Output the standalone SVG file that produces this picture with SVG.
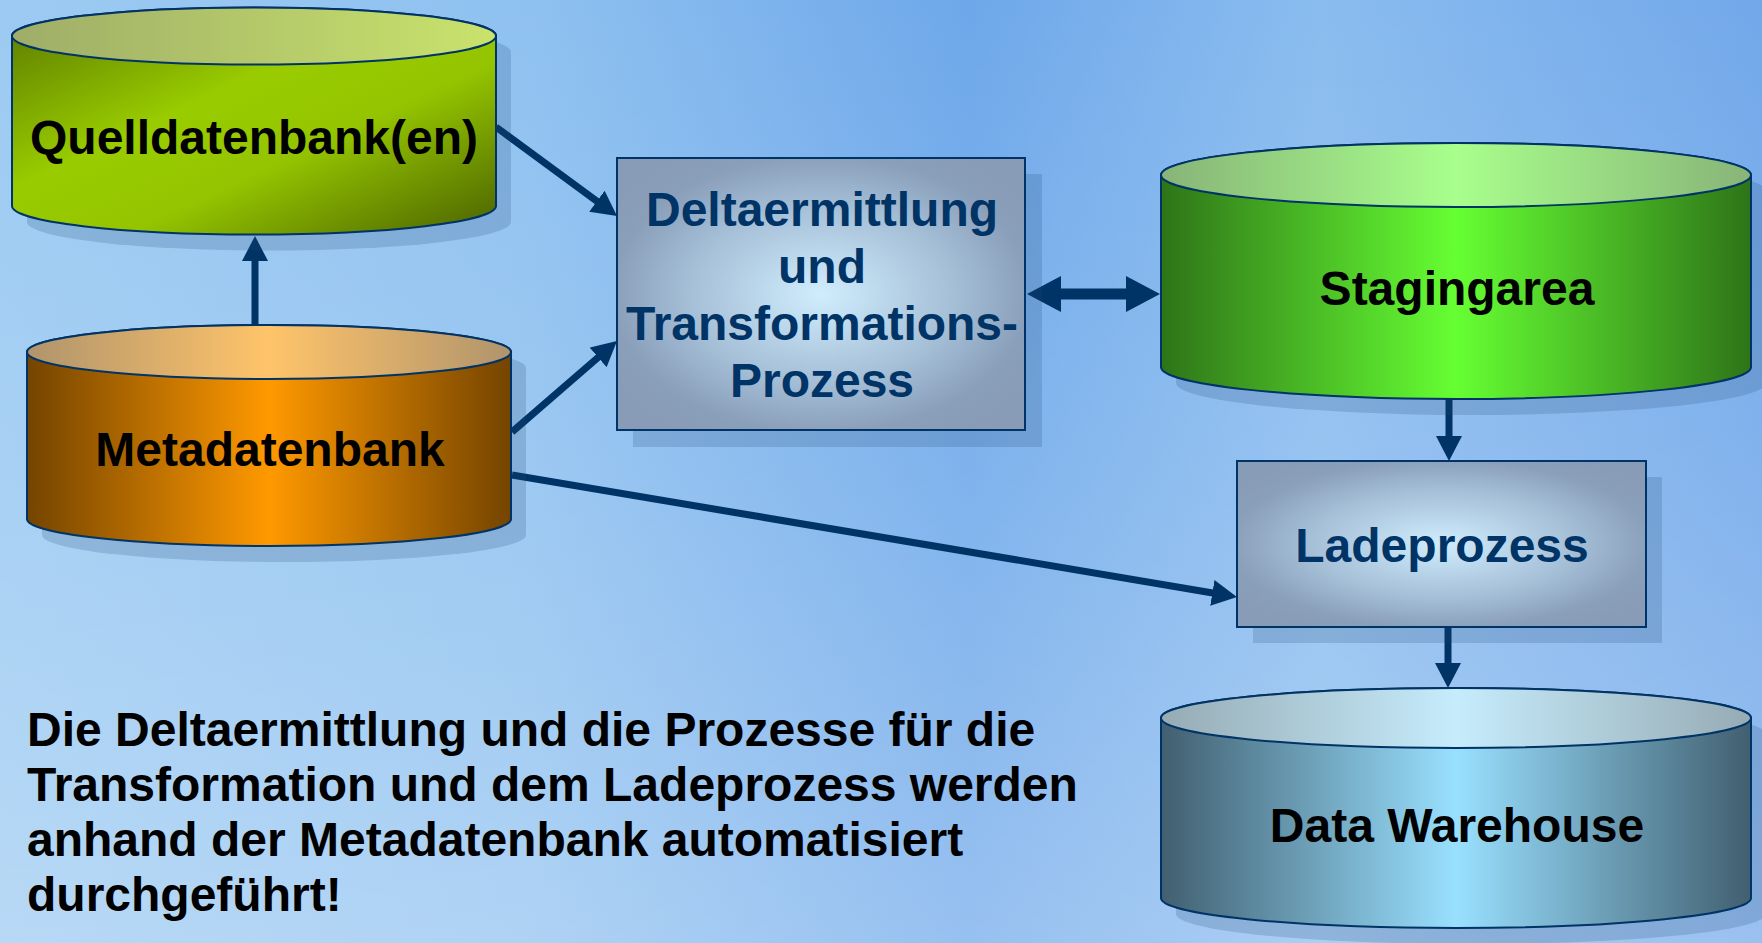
<svg xmlns="http://www.w3.org/2000/svg" width="1762" height="943" viewBox="0 0 1762 943">
<style>
.lbl{font-family:"Liberation Sans",Arial,sans-serif;font-weight:bold;font-size:48px;text-anchor:middle;fill:#000}
.plbl{font-family:"Liberation Sans",Arial,sans-serif;font-weight:bold;font-size:48px;text-anchor:middle;fill:#003366}
.note{font-family:"Liberation Sans",Arial,sans-serif;font-weight:bold;font-size:48px;fill:#000}
.edge{stroke:#003366;stroke-width:7;fill:none}
.edge2{stroke:#003366;stroke-width:11;fill:none}
.shadow{fill:#24497a;opacity:0.2}
.outline{stroke:#003366;stroke-width:2}
</style>
<defs>
<linearGradient id="bg" x1="0" y1="0" x2="1" y2="0">
<stop offset="0" stop-color="#9ccaf2"/>
<stop offset="0.3" stop-color="#8fc1f0"/>
<stop offset="0.55" stop-color="#6ea8ea"/>
<stop offset="0.75" stop-color="#8abcef"/>
<stop offset="1" stop-color="#72a8ea"/>
</linearGradient>
<linearGradient id="bgV" x1="0" y1="0" x2="0" y2="1">
<stop offset="0" stop-color="#ffffff" stop-opacity="0"/>
<stop offset="0.5" stop-color="#ffffff" stop-opacity="0.12"/>
<stop offset="1" stop-color="#ffffff" stop-opacity="0.28"/>
</linearGradient>
<linearGradient id="quellBody" x1="0" y1="0" x2="1" y2="1">
<stop offset="0" stop-color="#587600"/>
<stop offset="0.4" stop-color="#99cc00"/>
<stop offset="0.62" stop-color="#94c400"/>
<stop offset="1" stop-color="#4a6200"/>
</linearGradient>
<linearGradient id="quellTop" x1="0" y1="0" x2="1" y2="0">
<stop offset="0" stop-color="#9fad68"/>
<stop offset="1" stop-color="#c9e36c"/>
</linearGradient>
<linearGradient id="metaBody" x1="0" y1="0" x2="1" y2="0">
<stop offset="0" stop-color="#744400"/>
<stop offset="0.5" stop-color="#ff9900"/>
<stop offset="1" stop-color="#744400"/>
</linearGradient>
<linearGradient id="metaTop" x1="0" y1="0" x2="1" y2="0">
<stop offset="0" stop-color="#b0946c"/>
<stop offset="0.5" stop-color="#ffc46a"/>
<stop offset="1" stop-color="#b0946c"/>
</linearGradient>
<linearGradient id="stagBody" x1="0" y1="0" x2="1" y2="0">
<stop offset="0" stop-color="#2e7418"/>
<stop offset="0.5" stop-color="#66ff33"/>
<stop offset="1" stop-color="#2e7418"/>
</linearGradient>
<linearGradient id="stagTop" x1="0" y1="0" x2="1" y2="0">
<stop offset="0" stop-color="#88b478"/>
<stop offset="0.5" stop-color="#a8ff8c"/>
<stop offset="1" stop-color="#88b478"/>
</linearGradient>
<linearGradient id="dwBody" x1="0" y1="0" x2="1" y2="0">
<stop offset="0" stop-color="#415f70"/>
<stop offset="0.5" stop-color="#99e0ff"/>
<stop offset="1" stop-color="#415f70"/>
</linearGradient>
<linearGradient id="dwTop" x1="0" y1="0" x2="1" y2="0">
<stop offset="0" stop-color="#96abb4"/>
<stop offset="0.5" stop-color="#c6ecfc"/>
<stop offset="1" stop-color="#96abb4"/>
</linearGradient>
<radialGradient id="boxFill" cx="0.5" cy="0.5" r="0.6">
<stop offset="0" stop-color="#d0edfd"/>
<stop offset="0.55" stop-color="#a4bed6"/>
<stop offset="0.85" stop-color="#8a9fba"/>
<stop offset="1" stop-color="#889cb8"/>
</radialGradient>
<marker id="ah" markerUnits="userSpaceOnUse" markerWidth="25" markerHeight="26" refX="2" refY="13" orient="auto">
<path d="M0,0 L25,13 L0,26 Z" fill="#003366"/>
</marker>
<marker id="ahBig" markerUnits="userSpaceOnUse" markerWidth="34" markerHeight="36" refX="2" refY="18" orient="auto-start-reverse">
<path d="M0,0 L34,18 L0,36 Z" fill="#003366"/>
</marker>
</defs>

<rect x="0" y="0" width="1762" height="943" fill="url(#bg)"/>
<rect x="0" y="0" width="1762" height="943" fill="url(#bgV)"/>

<g id="connectors">
<line class="edge" x1="255" y1="326" x2="255" y2="259" marker-end="url(#ah)"/>
<line class="edge" x1="496" y1="127" x2="598.5" y2="202.4" marker-end="url(#ah)"/>
<line class="edge" x1="512" y1="432" x2="599.6" y2="356.1" marker-end="url(#ah)"/>
<line class="edge" x1="512" y1="475" x2="1214.3" y2="593.2" marker-end="url(#ah)"/>
<line class="edge" x1="1449" y1="399" x2="1449" y2="438" marker-end="url(#ah)"/>
<line class="edge" x1="1448" y1="627" x2="1448" y2="665" marker-end="url(#ah)"/>
<line class="edge2" x1="1059" y1="294" x2="1128" y2="294" marker-start="url(#ahBig)" marker-end="url(#ahBig)"/>
</g>

<g id="quelldatenbank">
<path class="shadow" d="M27,52 V222 A242,28.5 0 0 0 511,222 V52 A242,28.5 0 0 0 27,52 Z"/>
<path class="outline" fill="url(#quellBody)" d="M12,36 V206 A242,28.5 0 0 0 496,206 V36 A242,28.5 0 0 0 12,36 Z"/>
<ellipse class="outline" cx="254" cy="36" rx="242" ry="28.5" fill="url(#quellTop)"/>
<text class="lbl" x="254" y="154">Quelldatenbank(en)</text>
</g>

<g id="metadatenbank">
<path class="shadow" d="M42,368 V535 A242,27 0 0 0 526,535 V368 A242,27 0 0 0 42,368 Z"/>
<path class="outline" fill="url(#metaBody)" d="M27,352 V519 A242,27 0 0 0 511,519 V352 A242,27 0 0 0 27,352 Z"/>
<ellipse class="outline" cx="269" cy="352" rx="242" ry="27" fill="url(#metaTop)"/>
<text class="lbl" x="270" y="466">Metadatenbank</text>
</g>

<g id="deltaermittlung">
<rect class="shadow" x="633" y="174" width="409" height="273"/>
<rect class="outline" x="617" y="158" width="408" height="272" fill="url(#boxFill)"/>
<text class="plbl" x="822" y="226">Deltaermittlung</text>
<text class="plbl" x="822" y="283">und</text>
<text class="plbl" x="822" y="340">Transformations-</text>
<text class="plbl" x="822" y="397">Prozess</text>
</g>

<g id="stagingarea">
<path class="shadow" d="M1176,191 V383 A295,32 0 0 0 1766,383 V191 A295,32 0 0 0 1176,191 Z"/>
<path class="outline" fill="url(#stagBody)" d="M1161,175 V367 A295,32 0 0 0 1751,367 V175 A295,32 0 0 0 1161,175 Z"/>
<ellipse class="outline" cx="1456" cy="175" rx="295" ry="32" fill="url(#stagTop)"/>
<text class="lbl" x="1457" y="305">Stagingarea</text>
</g>

<g id="ladeprozess">
<rect class="shadow" x="1253" y="477" width="409" height="166"/>
<rect class="outline" x="1237" y="461" width="409" height="166" fill="url(#boxFill)"/>
<text class="plbl" x="1442" y="562">Ladeprozess</text>
</g>

<g id="datawarehouse">
<path class="shadow" d="M1176,734 V914 A295,30 0 0 0 1766,914 V734 A295,30 0 0 0 1176,734 Z"/>
<path class="outline" fill="url(#dwBody)" d="M1161,718 V898 A295,30 0 0 0 1751,898 V718 A295,30 0 0 0 1161,718 Z"/>
<ellipse class="outline" cx="1456" cy="718" rx="295" ry="30" fill="url(#dwTop)"/>
<text class="lbl" x="1457" y="842">Data Warehouse</text>
</g>

<g id="note">
<text class="note" x="27" y="746">Die Deltaermittlung und die Prozesse für die</text>
<text class="note" x="27" y="801">Transformation und dem Ladeprozess werden</text>
<text class="note" x="27" y="856">anhand der Metadatenbank automatisiert</text>
<text class="note" x="27" y="911">durchgeführt!</text>
</g>
</svg>
